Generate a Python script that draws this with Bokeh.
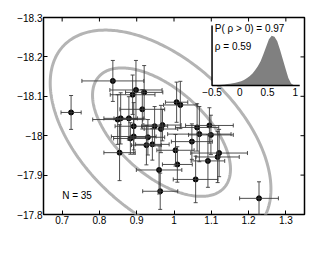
import numpy as np
from bokeh.plotting import figure
from bokeh.models import (Range1d, FixedTicker, CustomJSTickFormatter,
                          ColumnDataSource, Whisker, TeeHead, Label)
from bokeh.core.properties import value
from bokeh.embed import file_html
from bokeh.resources import INLINE

# ---------------- data ----------------
r_beta = [0.724, 0.836, 0.898, 0.920, 0.889, 0.915, 1.007, 1.017, 0.849, 0.857,
          0.879, 0.892, 0.948, 0.969, 0.965, 1.062, 1.095, 1.068, 1.099, 0.883,
          0.892, 0.930, 0.926, 0.942, 1.048, 1.004, 0.854, 1.121, 1.117, 1.091,
          1.009, 0.960, 1.058, 0.963, 1.228]
m_h = [-18.059, -18.139, -18.116, -18.110, -18.104, -18.067, -18.085, -18.078, -18.041, -18.044,
       -18.044, -18.024, -18.024, -18.027, -18.017, -18.021, -18.026, -18.004, -18.002, -17.993,
       -17.998, -17.996, -17.976, -17.978, -17.985, -17.963, -17.957, -17.956, -17.946, -17.936,
       -17.927, -17.913, -17.889, -17.859, -17.841]
r_beta_err = [0.027, 0.083, 0.070, 0.050, 0.060, 0.060, 0.030, 0.045, 0.067, 0.045,
              0.040, 0.050, 0.035, 0.050, 0.045, 0.058, 0.064, 0.085, 0.060, 0.045,
              0.060, 0.045, 0.040, 0.045, 0.055, 0.050, 0.042, 0.076, 0.058, 0.045,
              0.040, 0.061, 0.060, 0.047, 0.052]
m_h_err = [0.043, 0.052, 0.075, 0.068, 0.050, 0.050, 0.051, 0.060, 0.063, 0.065,
           0.055, 0.060, 0.050, 0.040, 0.060, 0.060, 0.045, 0.070, 0.050, 0.040,
           0.045, 0.045, 0.050, 0.040, 0.045, 0.040, 0.071, 0.060, 0.065, 0.067,
           0.045, 0.061, 0.059, 0.046, 0.042]

x_ticks = [0.7, 0.8, 0.9, 1.0, 1.1, 1.2, 1.3]
y_ticks = [-18.3, -18.2, -18.1, -18.0, -17.9, -17.8]

# posterior of rho (inset histogram), relative heights
rho_bin_centers = [-0.425, -0.375, -0.325, -0.275, -0.225, -0.175, -0.125, -0.075, -0.025,
                   0.025, 0.075, 0.125, 0.175, 0.225, 0.275, 0.325, 0.375, 0.425, 0.475,
                   0.525, 0.575, 0.625, 0.675, 0.725, 0.775, 0.825, 0.875, 0.925, 0.975]
rho_bin_heights = [0.005, 0.01, 0.015, 0.02, 0.027, 0.035, 0.045, 0.055, 0.07,
                   0.085, 0.11, 0.145, 0.185, 0.235, 0.30, 0.38, 0.48, 0.62, 0.77,
                   0.92, 0.99, 0.97, 0.88, 0.71, 0.52, 0.33, 0.15, 0.04, 0.005]
inset_ticks = [-0.5, 0.0, 0.5, 1.0]
inset_tick_labels = ["\u22120.5", "0", "0.5", "1"]
inset_texts = ["P( \u03c1  > 0) = 0.97", "\u03c1 = 0.59"]

# confidence ellipses: centre, spreads and correlation
ellipse_inner = dict(cx=0.9665, cy=-18.009, sx=0.185, sy=0.163, rho=0.575)
ellipse_outer = dict(cx=0.964, cy=-17.999, sx=0.296, sy=0.269, rho=0.50)

FONT = "Liberation Sans"


def ellipse_xy(e, n=300):
    t = np.linspace(0, 2 * np.pi, n)
    xs = e["cx"] + e["sx"] * np.cos(t)
    ys = e["cy"] + e["sy"] * (e["rho"] * np.cos(t) + np.sqrt(1 - e["rho"] ** 2) * np.sin(t))
    return xs, ys


p = figure(width=320, height=237,
           x_range=Range1d(0.65, 1.35), y_range=Range1d(-17.8, -18.3),
           output_backend="svg", toolbar_location=None, tools="",
           min_border_left=43, min_border_right=16, min_border_top=17, min_border_bottom=23)
p.extra_x_ranges = {"ix": Range1d(-3.537, 1.166)}
p.extra_y_ranges = {"iy": Range1d(-2.573, 1.354)}

p.xgrid.visible = False
p.ygrid.visible = False
p.outline_line_color = "black"
p.outline_line_width = 1.5
p.background_fill_color = "white"
p.border_fill_color = "white"

fmt_code = "return String(Math.round(tick*10)/10).replace('-', '\u2212');"
p.xaxis.ticker = FixedTicker(ticks=x_ticks)
p.yaxis.ticker = FixedTicker(ticks=y_ticks)
p.xaxis.formatter = CustomJSTickFormatter(code=fmt_code)
p.yaxis.formatter = CustomJSTickFormatter(code=fmt_code)
for ax in [p.xaxis[0], p.yaxis[0]]:
    ax.axis_line_color = None
    ax.major_tick_in = 4
    ax.major_tick_out = 0
    ax.major_tick_line_color = "black"
    ax.major_tick_line_width = 1
    ax.minor_tick_line_color = None
    ax.major_label_text_font = FONT
    ax.major_label_text_font_size = "10px"
    ax.major_label_text_color = "black"
p.xaxis.major_label_standoff = 1
p.yaxis.major_label_standoff = 1

# ticks on the top and right edges (half of each dash is clipped by the frame)
p.scatter(x=x_ticks, y=[-18.3] * len(x_ticks), marker="dash", size=8, angle=np.pi / 2,
          line_color="black", line_width=1)
p.scatter(x=[1.35] * len(y_ticks), y=y_ticks, marker="dash", size=8,
          line_color="black", line_width=1)

# ellipses
for e in (ellipse_outer, ellipse_inner):
    xs, ys = ellipse_xy(e)
    p.line(xs, ys, line_color="#b4b4b4", line_width=3)

# inset
p.quad(left=-0.5, right=1.08, bottom=0, top=1.2, fill_color="white", line_color=None,
       x_range_name="ix", y_range_name="iy")
p.varea(x=rho_bin_centers, y1=[0] * len(rho_bin_centers), y2=rho_bin_heights,
        fill_color="#808080", x_range_name="ix", y_range_name="iy")
p.line(x=[-0.5, -0.5, 1.08], y=[1.195, 0, 0], line_color="black", line_width=1.5,
       x_range_name="ix", y_range_name="iy")
p.text(x=inset_ticks, y=[0] * len(inset_ticks), text=inset_tick_labels,
       text_font=value(FONT), text_font_size="10px", text_color="black",
       text_align="center", text_baseline="top", y_offset=3,
       x_range_name="ix", y_range_name="iy")
p.text(x=[-0.45, -0.45], y=[1.13, 0.785], text=inset_texts,
       text_font=value(FONT), text_font_size="10px", text_color="black",
       text_align="left", text_baseline="middle",
       x_range_name="ix", y_range_name="iy")

# error bars
src = ColumnDataSource(dict(
    x=r_beta, y=m_h,
    xl=[a - b for a, b in zip(r_beta, r_beta_err)],
    xu=[a + b for a, b in zip(r_beta, r_beta_err)],
    yl=[a - b for a, b in zip(m_h, m_h_err)],
    yu=[a + b for a, b in zip(m_h, m_h_err)],
))
EB = "#3a3a3a"
for dim, base, lo, up in (("width", "y", "xl", "xu"), ("height", "x", "yl", "yu")):
    w = Whisker(source=src, base=base, lower=lo, upper=up, dimension=dim,
                line_color=EB, line_width=0.9, level="overlay",
                upper_head=TeeHead(size=4, line_color=EB, line_width=0.9),
                lower_head=TeeHead(size=4, line_color=EB, line_width=0.9))
    p.add_layout(w)

p.scatter("x", "y", source=src, size=5, fill_color="black", line_color="black")

# labels
p.add_layout(Label(x=0.7, y=-17.849, text="N = 35", text_font=FONT, text_font_size="10px",
                   text_color="black", text_align="left", text_baseline="middle"))
p.add_layout(Label(x=1.0, y=-17.7454, text="r/\u03b2   (2nd Rise Rate)", text_font=FONT,
                   text_font_size="8px", text_color="black", text_align="center",
                   text_baseline="bottom"))
p.add_layout(Label(x=0.5494, y=-18.0427, text="M", text_font=FONT, text_font_size="8px",
                   text_color="black", text_align="center", text_baseline="middle",
                   angle=np.pi / 2))
p.add_layout(Label(x=0.5535, y=-18.0568, text="H", text_font=FONT, text_font_size="6px",
                   text_color="black", text_align="center", text_baseline="middle",
                   angle=np.pi / 2))

open("out.html", "w").write(file_html(p, INLINE))
